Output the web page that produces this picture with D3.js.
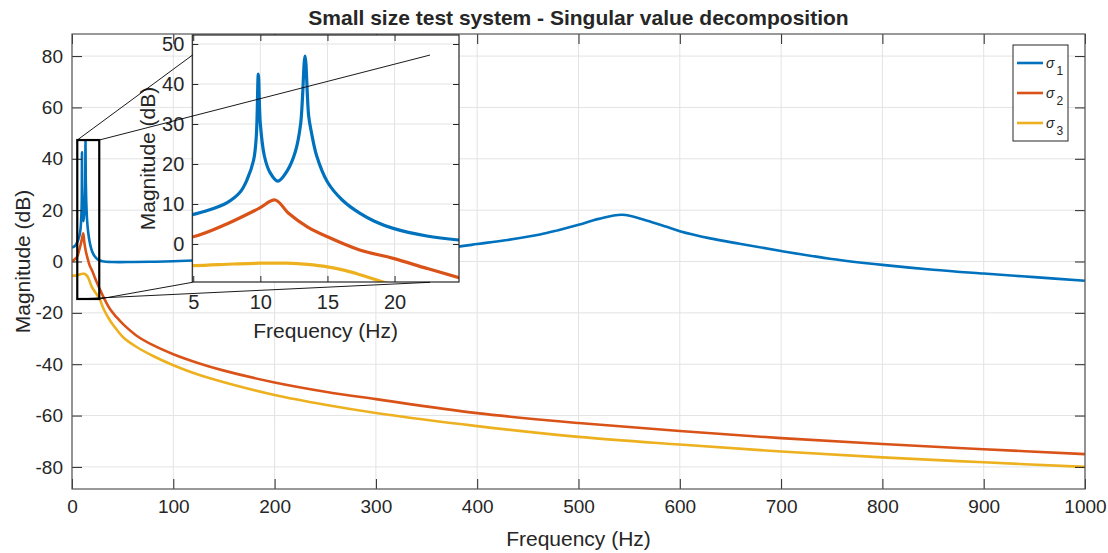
<!DOCTYPE html>
<html><head><meta charset="utf-8">
<script src="https://cdn.jsdelivr.net/npm/d3@7"></script>
<style>
body{margin:0;background:#fff}
svg{display:block}
text{font-family:"Liberation Sans",Arial,Helvetica,sans-serif;fill:#262626}
</style>
</head><body>
<svg id="c" width="1108" height="553"></svg>
<script>
// ---------------- data ----------------
const seriesNames = ["1", "2", "3"];
const seriesColors = ["#0072BD", "#D95319", "#EDB120"];

const sigma1Freq = [0, 2, 4, 5, 6, 7.5, 8.5, 9, 9.5, 9.7, 9.85, 10, 10.3, 10.7, 11.3, 12, 12.6, 13, 13.33, 13.6, 13.8, 14.2, 15, 16.1, 17.4, 18.5, 19.9, 22.4, 24.8, 27, 30, 40, 60, 80, 100, 120, 200, 300, 383, 400, 430, 462, 480, 500, 520, 543, 567, 587, 600, 630, 659, 700, 750, 800, 850, 900, 950, 1000];
const sigma1Mag  = [5.5, 5.8, 6.6, 7.4, 8.3, 10.3, 13.0, 16.0, 21, 27, 42.5, 30, 22, 18, 15.7, 18.3, 23, 30, 47, 32, 28, 22, 15.5, 11, 7.7, 5.7, 3.9, 2.0, 1.0, 0.5, 0.1, -0.2, -0.2, -0.1, 0.1, 0.4, 1.3, 3.2, 5.9, 6.8, 8.4, 10.5, 12.2, 14.3, 16.6, 18.2, 16.0, 13.5, 11.8, 9.0, 6.9, 4.1, 1.0, -1.3, -3.2, -4.7, -6.1, -7.5];

const sigma2Freq = [0, 2.5, 5, 7.5, 9.9, 11.1, 12.1, 13.5, 15, 17.4, 19.9, 22.4, 24.8, 27, 31, 37.5, 44, 50.7, 63.8, 80, 100, 125, 150, 200, 250, 300, 400, 500, 600, 700, 800, 900, 1000];
const sigma2Mag  = [0.0, 0.8, 1.8, 5.0, 8.9, 11.0, 7.7, 4.3, 1.8, -1.5, -3.6, -6.1, -8.4, -10.4, -13.8, -18.5, -21.7, -24.5, -28.9, -32.6, -36.1, -39.6, -42.5, -47.1, -50.7, -53.6, -59.05, -62.9, -66.0, -68.8, -71.1, -73.1, -75.0];

const sigma3Freq = [0, 5, 8, 10, 12, 13.5, 15, 16.3, 17.5, 18.5, 19.3, 21, 24, 27, 31, 37.5, 44, 50.7, 63.8, 80, 100, 125, 150, 200, 250, 300, 400, 500, 600, 700, 800, 900, 1000];
const sigma3Mag  = [-5.5, -5.4, -5.0, -4.8, -4.8, -5.1, -5.7, -6.6, -7.75, -8.8, -9.7, -10.8, -12.6, -14.3, -18.3, -23.0, -26.5, -29.6, -33.3, -36.8, -40.4, -44.1, -47.0, -52.0, -55.8, -59.0, -64.1, -68.3, -71.3, -74.0, -76.3, -78.2, -80.0];

const mainXTicks = [0, 100, 200, 300, 400, 500, 600, 700, 800, 900, 1000];
const mainYTicks = [-80, -60, -40, -20, 0, 20, 40, 60, 80];
const insetXTicks = [5, 10, 15, 20];
const insetYTicks = [0, 10, 20, 30, 40, 50];

const titleText = "Small size test system - Singular value decomposition";
const xLabelText = "Frequency (Hz)";
const yLabelText = "Magnitude (dB)";

// zoom rectangle (data coords of main axes) and connector target box
const zoomRectX = [5.2, 26.9];
const zoomRectY = [-14.6, 47.3];
const connTargetX = [119, 353.4];
const connTargetY = [-8.1, 80.4];

// ---------------- build ----------------
const freqs = [sigma1Freq, sigma2Freq, sigma3Freq];
const mags = [sigma1Mag, sigma2Mag, sigma3Mag];
const series = seriesNames.map((n, i) => ({
  name: n, color: seriesColors[i],
  pts: freqs[i].map((f, j) => [f, mags[i][j]])
}));
const fmt = d => String(d);

const svg = d3.select("#c");
const axisColor = "#262626";
const gridColor = "#e3e3e3";

// main axes
const M = {l: 72, r: 1085, t: 34, b: 489};
const x = d3.scaleLinear().domain([0, 1000]).range([M.l, M.r]);
const y = d3.scaleLinear().domain([-88.6, 88.6]).range([M.b, M.t]);

const gMain = svg.append("g");
gMain.append("rect").attr("x", M.l).attr("y", M.t).attr("width", M.r - M.l).attr("height", M.b - M.t).attr("fill", "#fff");
gMain.selectAll("line.gx").data(mainXTicks).join("line")
  .attr("x1", d => x(d)).attr("x2", d => x(d)).attr("y1", M.t).attr("y2", M.b)
  .attr("stroke", gridColor).attr("stroke-width", 1);
gMain.selectAll("line.gy").data(mainYTicks).join("line")
  .attr("y1", d => y(d)).attr("y2", d => y(d)).attr("x1", M.l).attr("x2", M.r)
  .attr("stroke", gridColor).attr("stroke-width", 1);

svg.append("clipPath").attr("id", "clipMain").append("rect")
  .attr("x", M.l).attr("y", M.t).attr("width", M.r - M.l).attr("height", M.b - M.t);
const lineMain = d3.line().x(d => x(d[0])).y(d => y(d[1])).curve(d3.curveCatmullRom.alpha(0.5));
gMain.append("g").attr("clip-path", "url(#clipMain)").selectAll("path").data(series).join("path")
  .attr("d", d => lineMain(d.pts)).attr("fill", "none").attr("stroke", d => d.color)
  .attr("stroke-width", 2.6).attr("stroke-linejoin", "round");

// main axes (ticks inward)
function styleAxis(g) {
  g.select(".domain").remove();
  g.selectAll(".tick line").attr("stroke", axisColor);
  g.selectAll(".tick text").attr("fill", axisColor).style("font-family", '"Liberation Sans",Arial,sans-serif');
}
const tickLen = 10;
gMain.append("g").attr("transform", `translate(0,${M.b})`)
  .call(d3.axisBottom(x).tickValues(mainXTicks).tickSize(-tickLen).tickPadding(11).tickFormat(fmt))
  .call(styleAxis).call(g => g.selectAll("text").style("font-size", "19px"));
gMain.append("g").attr("transform", `translate(0,${M.t})`)
  .call(d3.axisTop(x).tickValues(mainXTicks).tickSize(-tickLen).tickFormat(""))
  .call(styleAxis);
gMain.append("g").attr("transform", `translate(${M.l},0)`)
  .call(d3.axisLeft(y).tickValues(mainYTicks).tickSize(-tickLen).tickPadding(9).tickFormat(fmt))
  .call(styleAxis).call(g => g.selectAll("text").style("font-size", "19px"));
gMain.append("g").attr("transform", `translate(${M.r},0)`)
  .call(d3.axisRight(y).tickValues(mainYTicks).tickSize(-tickLen).tickFormat(""))
  .call(styleAxis);
gMain.append("rect").attr("x", M.l).attr("y", M.t).attr("width", M.r - M.l).attr("height", M.b - M.t)
  .attr("fill", "none").attr("stroke", "#555").attr("stroke-width", 1.2);

// labels & title
svg.append("text").attr("x", (M.l + M.r) / 2).attr("y", 25).attr("text-anchor", "middle")
  .style("font-size", "21px").style("font-weight", "bold").text(titleText);
svg.append("text").attr("x", (M.l + M.r) / 2).attr("y", 546).attr("text-anchor", "middle")
  .style("font-size", "21px").text(xLabelText);
svg.append("text").attr("transform", `translate(30,${(M.t + M.b) / 2}) rotate(-90)`).attr("text-anchor", "middle")
  .style("font-size", "21px").text(yLabelText);

// zoom rectangle on main axes
svg.append("rect").attr("x", x(zoomRectX[0])).attr("y", y(zoomRectY[1]))
  .attr("width", x(zoomRectX[1]) - x(zoomRectX[0])).attr("height", y(zoomRectY[0]) - y(zoomRectY[1]))
  .attr("fill", "none").attr("stroke", "#000").attr("stroke-width", 2.2);

// ---------------- inset ----------------
const I = {l: 192.3, r: 459, t: 35, b: 282};
const xi = d3.scaleLinear().domain([4.93, 24.8]).range([I.l, I.r]);
const yi = d3.scaleLinear().domain([-9.5, 52.25]).range([I.b, I.t]);
const gIn = svg.append("g");
gIn.append("rect").attr("x", I.l).attr("y", I.t).attr("width", I.r - I.l).attr("height", I.b - I.t).attr("fill", "#fff");
gIn.selectAll("line.gx").data(insetXTicks).join("line")
  .attr("x1", d => xi(d)).attr("x2", d => xi(d)).attr("y1", I.t).attr("y2", I.b)
  .attr("stroke", gridColor);
gIn.selectAll("line.gy").data(insetYTicks).join("line")
  .attr("y1", d => yi(d)).attr("y2", d => yi(d)).attr("x1", I.l).attr("x2", I.r)
  .attr("stroke", gridColor);
svg.append("clipPath").attr("id", "clipIn").append("rect")
  .attr("x", I.l).attr("y", I.t).attr("width", I.r - I.l).attr("height", I.b - I.t);
const lineIn = d3.line().x(d => xi(d[0])).y(d => yi(d[1])).curve(d3.curveCatmullRom.alpha(0.5));
gIn.append("g").attr("clip-path", "url(#clipIn)").selectAll("path").data(series).join("path")
  .attr("d", d => lineIn(d.pts)).attr("fill", "none").attr("stroke", d => d.color)
  .attr("stroke-width", 3.2).attr("stroke-linejoin", "round");
const tickIn = 6;
gIn.append("g").attr("transform", `translate(0,${I.b})`)
  .call(d3.axisBottom(xi).tickValues(insetXTicks).tickSize(-tickIn).tickPadding(13).tickFormat(fmt))
  .call(styleAxis).call(g => g.selectAll("text").style("font-size", "20px"));
gIn.append("g").attr("transform", `translate(0,${I.t})`)
  .call(d3.axisTop(xi).tickValues(insetXTicks).tickSize(-tickIn).tickFormat(""))
  .call(styleAxis);
gIn.append("g").attr("transform", `translate(${I.l},0)`)
  .call(d3.axisLeft(yi).tickValues(insetYTicks).tickSize(-tickIn).tickPadding(8).tickFormat(fmt))
  .call(styleAxis).call(g => g.selectAll("text").style("font-size", "20px"));
gIn.append("g").attr("transform", `translate(${I.r},0)`)
  .call(d3.axisRight(yi).tickValues(insetYTicks).tickSize(-tickIn).tickFormat(""))
  .call(styleAxis);
gIn.append("rect").attr("x", I.l).attr("y", I.t).attr("width", I.r - I.l).attr("height", I.b - I.t)
  .attr("fill", "none").attr("stroke", axisColor).attr("stroke-width", 1.2);
svg.append("text").attr("x", (I.l + I.r) / 2).attr("y", 338).attr("text-anchor", "middle")
  .style("font-size", "21px").text(xLabelText);
svg.append("text").attr("transform", `translate(155,${(I.t + I.b) / 2}) rotate(-90)`).attr("text-anchor", "middle")
  .style("font-size", "21px").text(yLabelText);

// connector lines (drawn on top)
const connectors = [
  [[zoomRectX[0], zoomRectY[1]], [connTargetX[0], connTargetY[1]]],
  [[zoomRectX[1], zoomRectY[1]], [connTargetX[1], connTargetY[1]]],
  [[zoomRectX[1], zoomRectY[0]], [connTargetX[0], connTargetY[0]]],
  [[zoomRectX[0], zoomRectY[0]], [connTargetX[1], connTargetY[0]]]
];
svg.selectAll("line.conn").data(connectors).join("line").attr("class", "conn")
  .attr("x1", d => x(d[0][0])).attr("y1", d => y(d[0][1]))
  .attr("x2", d => x(d[1][0])).attr("y2", d => y(d[1][1]))
  .attr("stroke", "#000").attr("stroke-width", 0.9);

// ---------------- legend ----------------
const L = {x: 1013, y: 45, w: 55, h: 96};
const gL = svg.append("g");
gL.append("rect").attr("x", L.x).attr("y", L.y).attr("width", L.w).attr("height", L.h)
  .attr("fill", "#fff").attr("stroke", axisColor).attr("stroke-width", 1);
const ly = d3.scalePoint().domain(seriesNames).range([L.y + 18, L.y + 78]);
const items = gL.selectAll("g.item").data(series).join("g").attr("class", "item")
  .attr("transform", d => `translate(${L.x},${ly(d.name)})`);
items.append("line").attr("x1", 4).attr("x2", 30).attr("y1", 0).attr("y2", 0)
  .attr("stroke", d => d.color).attr("stroke-width", 2.6);
const t = items.append("text").attr("x", 33).attr("y", 4.5).style("font-size", "14px");
t.append("tspan").style("font-style", "italic").text("σ");
t.append("tspan").attr("dx", 2).attr("dy", 7).style("font-size", "12px").text(d => d.name);
</script>
</body></html>
